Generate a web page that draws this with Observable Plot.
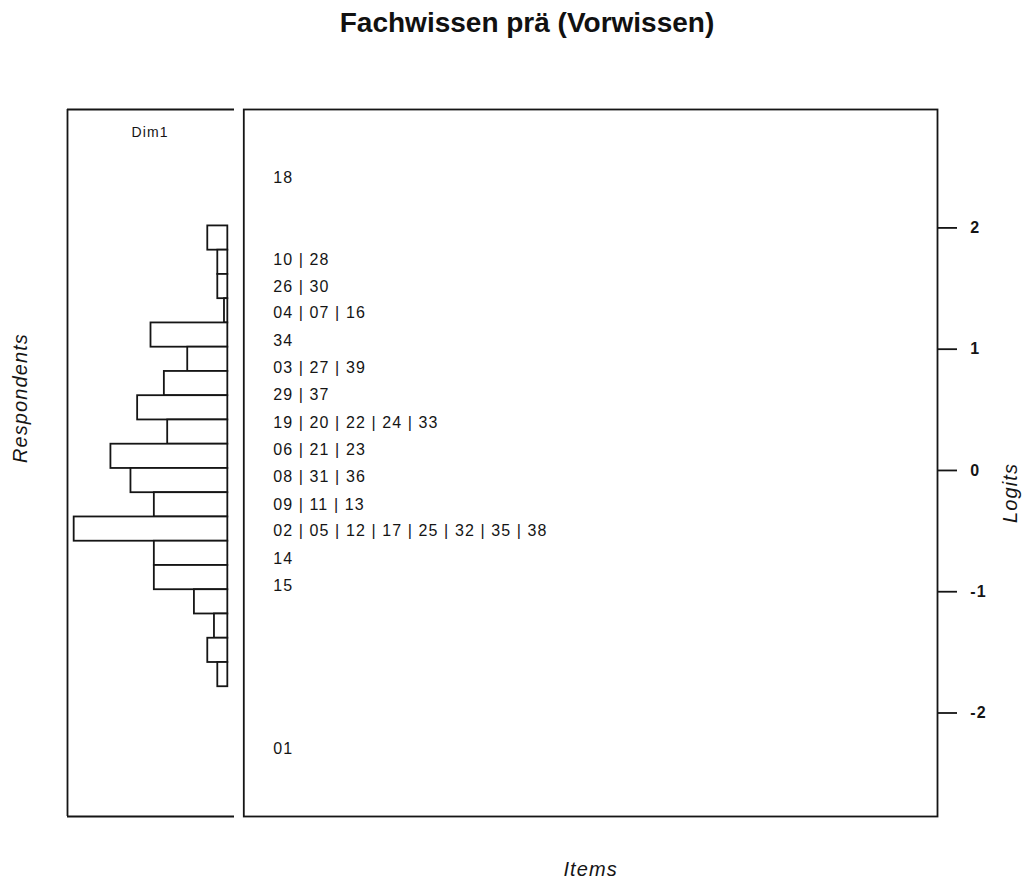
<!DOCTYPE html>
<html>
<head>
<meta charset="utf-8">
<script src="https://cdn.jsdelivr.net/npm/d3@7"></script>
<script src="https://cdn.jsdelivr.net/npm/@observablehq/plot@0.6"></script>
<style>
  html, body { margin: 0; padding: 0; background: #fff; }
  #wrap { position: relative; width: 1022px; height: 879px; overflow: hidden; font-family: "Liberation Sans", Arial, sans-serif; }
  #title { position: absolute; left: 0; top: 6px; width: 1054px; text-align: center; font-size: 28px; font-weight: bold; color: #111; margin: 0; line-height: 34px; }
  #left, #right { position: absolute; top: 0; }
  #left { left: 0; }
  #right { left: 240px; }
  #wrap svg { max-width: none !important; }
</style>
</head>
<body>
<div id="wrap">
  <h1 id="title">Fachwissen prä (Vorwissen)</h1>
  <div id="left"></div>
  <div id="right"></div>
</div>
<script>
// ---- data ----
const titleText = "Fachwissen prä (Vorwissen)";
const dimensionNames = ["Dim1"];
// histogram of respondents: bin breaks (logits, top to bottom) and counts per bin
const respondentBreaks = [2.0, 1.8, 1.6, 1.4, 1.2, 1.0, 0.8, 0.6, 0.4, 0.2, 0.0, -0.2, -0.4, -0.6, -0.8, -1.0, -1.2, -1.4, -1.6, -1.8];
const respondentCounts = [6, 3, 3, 1, 23, 12, 19, 27, 18, 35, 29, 22, 46, 22, 22, 10, 4, 6, 3];
// item labels and their difficulty positions (logits)
const itemLabels = ["18", "10 | 28", "26 | 30", "04 | 07 | 16", "34", "03 | 27 | 39", "29 | 37",
  "19 | 20 | 22 | 24 | 33", "06 | 21 | 23", "08 | 31 | 36", "09 | 11 | 13",
  "02 | 05 | 12 | 17 | 25 | 32 | 35 | 38", "14", "15", "01"];
const itemLogits = [2.40, 1.72, 1.50, 1.28, 1.05, 0.83, 0.61, 0.375, 0.157, -0.07, -0.297, -0.515, -0.745, -0.965, -2.31];
const logitTicks = [-2, -1, 0, 1, 2];
const axisTitles = {respondents: "Respondents", items: "Items", logits: "Logits"};

// ---- tables built from the arrays ----
const bins = respondentCounts.map((c, i) => ({hi: respondentBreaks[i], lo: respondentBreaks[i + 1], count: c}));
const items = itemLabels.map((t, i) => ({label: t, logit: itemLogits[i]}));

const yDomain = [-2.87, 2.96];
const countDomain = [-2, 48];
const ink = "#151515";
const font = "'Liberation Sans', Arial, sans-serif";
const H = 879, mTop = 109, mBottom = H - 816;

document.getElementById("title").textContent = titleText;

// ---- left panel: respondents histogram ----
const left = Plot.plot({
  width: 240, height: H,
  marginLeft: 67, marginRight: 6, marginTop: mTop, marginBottom: mBottom,
  style: {fontFamily: font, letterSpacing: "1.1px", background: "transparent", overflow: "visible"},
  x: {domain: countDomain, reverse: true, axis: null},
  y: {domain: yDomain, axis: null},
  marks: [
    Plot.rect(bins, {x1: d => 0, x2: "count", y1: "lo", y2: "hi", fill: "white", stroke: ink, strokeWidth: 1.8}),
    Plot.ruleY(yDomain, {stroke: ink, strokeWidth: 1.8}),
    Plot.ruleX([countDomain[1]], {stroke: ink, strokeWidth: 1.8}),
    Plot.text(dimensionNames, {text: d => d, frameAnchor: "top", lineAnchor: "middle", dy: 23, dx: -1, fontSize: 14, fill: ink}),
    Plot.text([axisTitles.respondents], {text: d => d, frameAnchor: "left", dx: -47, rotate: -90, fontSize: 20, fontStyle: "italic", fill: ink})
  ]
});
document.getElementById("left").appendChild(left);

// ---- right panel: item map ----
const right = Plot.plot({
  width: 782, height: H,
  marginLeft: 3.3, marginRight: 85, marginTop: mTop, marginBottom: mBottom,
  style: {fontFamily: font, letterSpacing: "1.1px", background: "transparent", overflow: "visible"},
  y: {domain: yDomain},
  marks: [
    Plot.frame({stroke: ink, strokeWidth: 1.8}),
    Plot.axisY({anchor: "right", ticks: logitTicks, tickFormat: d => String(d), tickSize: 19, tickPadding: 13.7,
      fontSize: 16, fontWeight: "bold", strokeWidth: 1.8, stroke: ink, fill: ink, label: null, dy: 2}),
    Plot.text(items, {text: "label", y: "logit", frameAnchor: "left", dx: 29.4, textAnchor: "start", fontSize: 16, fill: ink}),
    Plot.text([axisTitles.logits], {text: d => d, frameAnchor: "right", dx: 73, rotate: -90, fontSize: 20, fontStyle: "italic", fill: ink}),
    Plot.text([axisTitles.items], {text: d => d, frameAnchor: "bottom", lineAnchor: "middle", dy: 53, fontSize: 20, fontStyle: "italic", fill: ink})
  ]
});
document.getElementById("right").appendChild(right);
</script>
</body>
</html>
